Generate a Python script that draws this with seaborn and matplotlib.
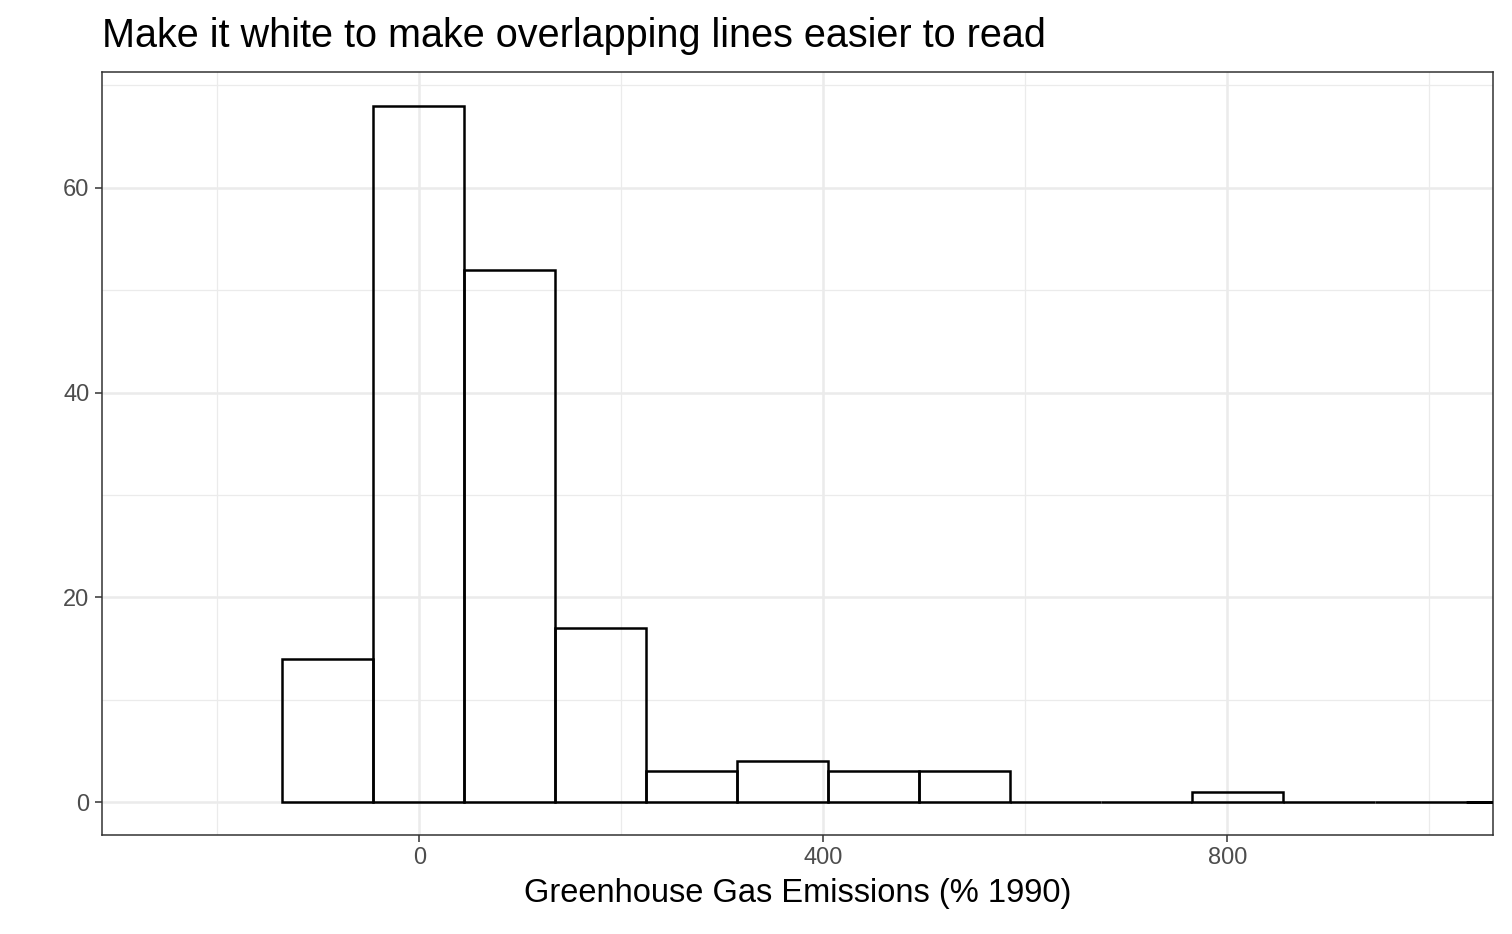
import numpy as np
import matplotlib
matplotlib.use("Agg")
import matplotlib.pyplot as plt
import seaborn as sns
from matplotlib.ticker import MultipleLocator

# histogram (bin width ~90)
bin_edges = [-135.6, -45.5, 44.6, 134.7, 224.8, 314.9, 405.0, 495.1, 585.2,
             675.3, 765.4, 855.5, 945.6, 1035.7, 1125.8]
counts = [14, 68, 52, 17, 3, 4, 3, 3, 0, 0, 1, 0, 0, 0]

sns.set_theme(style="white")
plt.rcParams["font.family"] = ["Liberation Sans", "DejaVu Sans"]

fig, ax = plt.subplots(figsize=(15.12, 9.34), dpi=100)
fig.subplots_adjust(left=0.0675, right=0.9875, top=0.923, bottom=0.106)

centers = [(a + b) / 2 for a, b in zip(bin_edges[:-1], bin_edges[1:])]
sns.histplot(x=centers, weights=counts, bins=bin_edges, fill=False,
             element="bars", color="black", linewidth=1.8, ax=ax, zorder=3)

ax.set_xlim(-314, 1063)
ax.set_ylim(-3.2, 71.3)
ax.xaxis.set_major_locator(MultipleLocator(400))
ax.xaxis.set_minor_locator(MultipleLocator(200))
ax.yaxis.set_major_locator(MultipleLocator(20))
ax.yaxis.set_minor_locator(MultipleLocator(10))
ax.grid(which="major", color="#ebebeb", linewidth=1.8, zorder=0)
ax.grid(which="minor", color="#ebebeb", linewidth=0.9, zorder=0)
ax.set_axisbelow(True)
for s in ax.spines.values():
    s.set_color("#333333")
    s.set_linewidth(1.1)
ax.tick_params(which="major", length=5, width=1.1, color="#333333", pad=4,
               labelsize=17, labelcolor="#4d4d4d", bottom=True, left=True)
ax.tick_params(which="minor", length=0)
ax.set_ylabel("")
ax.set_xlabel("Greenhouse Gas Emissions (% 1990)", fontsize=23.5,
              color="black", labelpad=6)
ax.set_title("Make it white to make overlapping lines easier to read",
             fontsize=28.5, loc="left", pad=18, color="black")

fig.savefig("out.png", dpi=100)
